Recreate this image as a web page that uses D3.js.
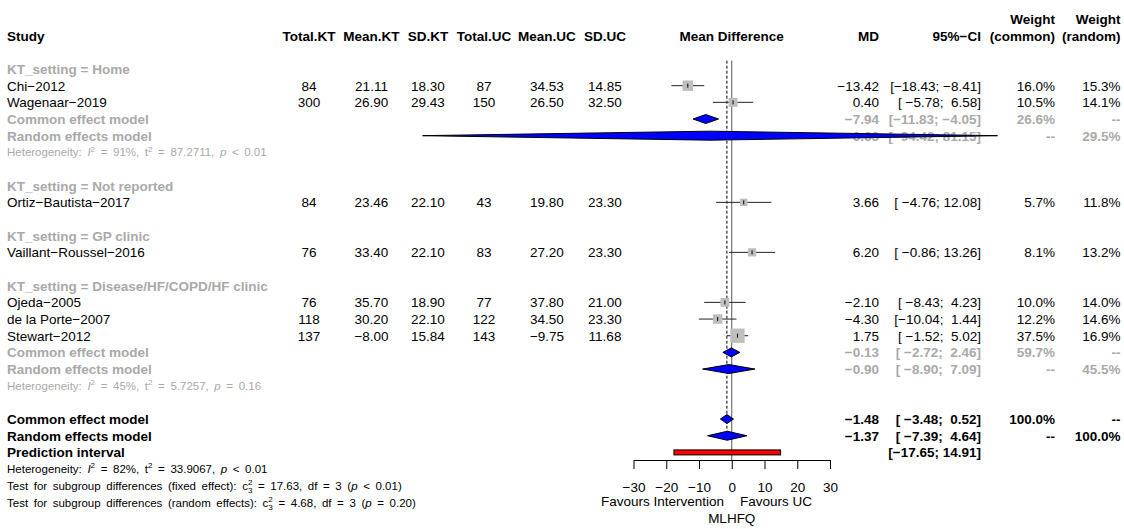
<!DOCTYPE html>
<html>
<head>
<meta charset="utf-8">
<script src="https://cdn.jsdelivr.net/npm/d3@7"></script>
<style>
  body { margin: 0; background: #fff; }
  svg text { font-family: "Liberation Sans", Arial, Helvetica, sans-serif; white-space: pre; }
</style>
</head>
<body>
<svg id="chart" width="1124" height="529"></svg>
<script>
// ---- Study-level data -------------------------------------------------
const studyNames   = ["Chi-2012", "Wagenaar-2019", "Ortiz-Bautista-2017", "Vaillant-Roussel-2016",
                      "Ojeda-2005", "de la Porte-2007", "Stewart-2012"];
const studyGroup   = [0, 0, 1, 2, 3, 3, 3];
const totalKT      = [84, 300, 84, 76, 76, 118, 137];
const meanKT       = [21.11, 26.90, 23.46, 33.40, 35.70, 30.20, -8.00];
const sdKT         = [18.30, 29.43, 22.10, 22.10, 18.90, 22.10, 15.84];
const totalUC      = [87, 150, 43, 83, 77, 122, 143];
const meanUC       = [34.53, 26.50, 19.80, 27.20, 37.80, 34.50, -9.75];
const sdUC         = [14.85, 32.50, 23.30, 23.30, 21.00, 23.30, 11.68];
const mdEst        = [-13.42, 0.40, 3.66, 6.20, -2.10, -4.30, 1.75];
const mdLower      = [-18.43, -5.78, -4.76, -0.86, -8.43, -10.04, -1.52];
const mdUpper      = [-8.41, 6.58, 12.08, 13.26, 4.23, 1.44, 5.02];
const weightCommon = [16.0, 10.5, 5.7, 8.1, 10.0, 12.2, 37.5];
const weightRandom = [15.3, 14.1, 11.8, 13.2, 14.0, 14.6, 16.9];

// ---- Subgroups ----------------------------------------------------------
const groupNames   = ["Home", "Not reported", "GP clinic", "Disease/HF/COPD/HF clinic"];
// pooled results exist only for subgroups with more than one study
const pooledGroups      = [0, 3];
const groupCommonEst    = [-7.94, -0.13];
const groupCommonLower  = [-11.83, -2.72];
const groupCommonUpper  = [-4.05, 2.46];
const groupCommonWeight = [26.6, 59.7];
const groupRandomEst    = [-6.63, -0.90];
const groupRandomLower  = [-94.42, -8.90];
const groupRandomUpper  = [81.15, 7.09];
const groupRandomWeight = [29.5, 45.5];
const groupI2           = ["91%", "45%"];
const groupTau2         = ["87.2711", "5.7257"];
const groupP            = ["< 0.01", "= 0.16"];

// ---- Overall results ------------------------------------------------------
const overallCommon     = [-1.48, -3.48, 0.52];
const overallRandom     = [-1.37, -7.39, 4.64];
const predictionInt     = [-17.65, 14.91];
const overallI2         = "82%";
const overallTau2       = "33.9067";
const overallP          = "< 0.01";
const testLabels        = ["fixed effect", "random effects"];
const testQ             = ["17.63", "4.68"];
const testDf            = ["3", "3"];
const testP             = ["< 0.01", "= 0.20"];

const axisTicks = [-30, -20, -10, 0, 10, 20, 30];

// ---- Layout ------------------------------------------------------------------
const svg = d3.select("#chart");
const FS = 13.5, FS_HET = 11.5;
const GRAY = "#a9a9a9";
const rowY = i => 69 + i * 16.67;

const x = d3.scaleLinear().domain([-30, 30]).range([633.5, 830]);

const colStudy = 7;
const colCenters = { totalKT: 309, meanKT: 371.5, sdKT: 428, totalUC: 484, meanUC: 547, sdUC: 605 };
const colMD = 879, colCI = 981, colWC = 1055, colWR = 1120.5;

const minus = s => s.replace(/-/g, "\u2212");
const f2 = v => minus(v.toFixed(2));
const pct = v => v.toFixed(1) + "%";
const padL = (s, w) => " ".repeat(Math.max(0, w - s.length)) + s;
const ciText = (lo, up) => minus("[" + padL(lo.toFixed(2), 6) + "; " + padL(up.toFixed(2), 5) + "]");

const textLayer = svg.append("g");
const plotLayer = svg.append("g");

function cell(xPos, y, str, anchor, opts = {}) {
  return textLayer.append("text")
    .attr("x", xPos).attr("y", y).attr("dy", "0.36em")
    .attr("text-anchor", anchor)
    .attr("font-size", opts.size || FS)
    .attr("font-weight", opts.bold ? "bold" : "normal")
    .attr("fill", opts.color || "#000")
    .text(str);
}

// text with italic / superscript / subscript pieces
function richText(xPos, y, parts, color) {
  const t = textLayer.append("text")
    .attr("x", xPos).attr("y", y).attr("dy", "0.36em")
    .attr("font-size", FS_HET).attr("fill", color)
    .style("word-spacing", "2.4px");
  let shift = 0, lastSup = null;
  parts.forEach(p => {
    const ts = t.append("tspan").text(p.t);
    const target = p.sup ? -0.42 * FS_HET : p.sub ? 0.28 * FS_HET : 0;
    if (target !== shift) ts.attr("dy", target - shift);
    shift = target;
    if (p.sup || p.sub) ts.attr("font-size", FS_HET * 0.7);
    if (p.it) ts.attr("font-style", "italic");
    if (p.stack && lastSup) ts.attr("dx", -lastSup.node().getComputedTextLength());
    if (p.sup) lastSup = ts;
  });
  return t;
}

function hetParts(i2, tau2, p) {
  return [
    { t: "Heterogeneity: " }, { t: "I", it: true }, { t: "2", sup: true },
    { t: " = " + i2 + ", " }, { t: "t" }, { t: "2", sup: true },
    { t: " = " + tau2 + ", " }, { t: "p", it: true }, { t: " " + p }
  ];
}

// ---- Header --------------------------------------------------------------------
const h1 = rowY(-3), h2 = rowY(-2);
cell(colStudy, h2, "Study", "start", { bold: true });
cell(colCenters.totalKT, h2, "Total.KT", "middle", { bold: true });
cell(colCenters.meanKT, h2, "Mean.KT", "middle", { bold: true });
cell(colCenters.sdKT, h2, "SD.KT", "middle", { bold: true });
cell(colCenters.totalUC, h2, "Total.UC", "middle", { bold: true });
cell(colCenters.meanUC, h2, "Mean.UC", "middle", { bold: true });
cell(colCenters.sdUC, h2, "SD.UC", "middle", { bold: true });
cell(x(0), h2, "Mean Difference", "middle", { bold: true });
cell(colMD, h2, "MD", "end", { bold: true });
cell(colCI, h2, "95%\u2212CI", "end", { bold: true });
cell(colWC, h1, "Weight", "end", { bold: true });
cell(colWC, h2, "(common)", "end", { bold: true });
cell(colWR, h1, "Weight", "end", { bold: true });
cell(colWR, h2, "(random)", "end", { bold: true });

// ---- Body rows -------------------------------------------------------------------
const studyRows = [], diamonds = [];
let row = 0;
groupNames.forEach((g, gi) => {
  cell(colStudy, rowY(row), "KT_setting = " + g, "start", { bold: true, color: GRAY });
  row++;
  studyNames.forEach((name, si) => {
    if (studyGroup[si] !== gi) return;
    const y = rowY(row);
    cell(colStudy, y, minus(name), "start");
    cell(colCenters.totalKT, y, String(totalKT[si]), "middle");
    cell(colCenters.meanKT, y, f2(meanKT[si]), "middle");
    cell(colCenters.sdKT, y, f2(sdKT[si]), "middle");
    cell(colCenters.totalUC, y, String(totalUC[si]), "middle");
    cell(colCenters.meanUC, y, f2(meanUC[si]), "middle");
    cell(colCenters.sdUC, y, f2(sdUC[si]), "middle");
    cell(colMD, y, f2(mdEst[si]), "end");
    cell(colCI, y, ciText(mdLower[si], mdUpper[si]), "end");
    cell(colWC, y, pct(weightCommon[si]), "end");
    cell(colWR, y, pct(weightRandom[si]), "end");
    studyRows.push({ y, est: mdEst[si], lo: mdLower[si], up: mdUpper[si], w: weightCommon[si] });
    row++;
  });
  const k = pooledGroups.indexOf(gi);
  if (k >= 0) {
    let y = rowY(row);
    cell(colStudy, y, "Common effect model", "start", { bold: true, color: GRAY });
    cell(colMD, y, f2(groupCommonEst[k]), "end", { bold: true, color: GRAY });
    cell(colCI, y, ciText(groupCommonLower[k], groupCommonUpper[k]), "end", { bold: true, color: GRAY });
    cell(colWC, y, pct(groupCommonWeight[k]), "end", { bold: true, color: GRAY });
    cell(colWR, y, "--", "end", { bold: true, color: GRAY });
    diamonds.push({ y, est: groupCommonEst[k], lo: groupCommonLower[k], up: groupCommonUpper[k] });
    row++;
    y = rowY(row);
    cell(colStudy, y, "Random effects model", "start", { bold: true, color: GRAY });
    cell(colMD, y, f2(groupRandomEst[k]), "end", { bold: true, color: GRAY });
    cell(colCI, y, ciText(groupRandomLower[k], groupRandomUpper[k]), "end", { bold: true, color: GRAY });
    cell(colWC, y, "--", "end", { bold: true, color: GRAY });
    cell(colWR, y, pct(groupRandomWeight[k]), "end", { bold: true, color: GRAY });
    diamonds.push({ y, est: groupRandomEst[k], lo: groupRandomLower[k], up: groupRandomUpper[k] });
    row++;
    richText(colStudy, rowY(row), hetParts(groupI2[k], groupTau2[k], groupP[k]), GRAY);
    row++;
  }
  row++; // blank spacer row
});

// ---- Overall rows ------------------------------------------------------------------
const yC = rowY(row), yR = rowY(row + 1), yP = rowY(row + 2);
cell(colStudy, yC, "Common effect model", "start", { bold: true });
cell(colMD, yC, f2(overallCommon[0]), "end", { bold: true });
cell(colCI, yC, ciText(overallCommon[1], overallCommon[2]), "end", { bold: true });
cell(colWC, yC, "100.0%", "end", { bold: true });
cell(colWR, yC, "--", "end", { bold: true });
diamonds.push({ y: yC, est: overallCommon[0], lo: overallCommon[1], up: overallCommon[2] });

cell(colStudy, yR, "Random effects model", "start", { bold: true });
cell(colMD, yR, f2(overallRandom[0]), "end", { bold: true });
cell(colCI, yR, ciText(overallRandom[1], overallRandom[2]), "end", { bold: true });
cell(colWC, yR, "--", "end", { bold: true });
cell(colWR, yR, "100.0%", "end", { bold: true });
diamonds.push({ y: yR, est: overallRandom[0], lo: overallRandom[1], up: overallRandom[2] });

cell(colStudy, yP, "Prediction interval", "start", { bold: true });
cell(colCI, yP, ciText(predictionInt[0], predictionInt[1]), "end", { bold: true });

richText(colStudy, rowY(row + 3), hetParts(overallI2, overallTau2, overallP), "#000");
testLabels.forEach((lab, i) => {
  richText(colStudy, rowY(row + 4 + i), [
    { t: "Test for subgroup differences (" + lab + "): " }, { t: "c" },
    { t: "2", sup: true }, { t: "3", sub: true, stack: true },
    { t: " = " + testQ[i] + ", df = " + testDf[i] + " (" }, { t: "p", it: true },
    { t: " " + testP[i] + ")" }
  ], "#000");
});

// ---- Forest plot -------------------------------------------------------------------
const plotTop = rowY(0) - 8.3;
const axisY = 460;

// reference line at zero and dashed line at the common-effect estimate
plotLayer.append("line")
  .attr("x1", x(0)).attr("x2", x(0)).attr("y1", plotTop).attr("y2", axisY)
  .attr("stroke", "#555").attr("stroke-width", 1);
plotLayer.append("line")
  .attr("x1", x(overallCommon[0])).attr("x2", x(overallCommon[0]))
  .attr("y1", plotTop).attr("y2", yR + 4)
  .attr("stroke", "#000").attr("stroke-width", 1).attr("stroke-dasharray", "3,2");

// study confidence intervals, weighted squares and centre ticks
const studyG = plotLayer.selectAll("g.study").data(studyRows).join("g").attr("class", "study");
studyG.append("line")
  .attr("x1", d => x(d.lo)).attr("x2", d => x(d.up))
  .attr("y1", d => d.y).attr("y2", d => d.y)
  .attr("stroke", "#222").attr("stroke-width", 1);
studyG.append("rect")
  .attr("x", d => x(d.est) - (3 + 1.85 * Math.sqrt(d.w)) / 2)
  .attr("y", d => d.y - (3 + 1.85 * Math.sqrt(d.w)) / 2)
  .attr("width", d => 3 + 1.85 * Math.sqrt(d.w))
  .attr("height", d => 3 + 1.85 * Math.sqrt(d.w))
  .attr("fill", "#bebebe");
studyG.append("line")
  .attr("x1", d => x(d.est)).attr("x2", d => x(d.est))
  .attr("y1", d => d.y - 2).attr("y2", d => d.y + 2)
  .attr("stroke", "#000").attr("stroke-width", 1);

// pooled diamonds
plotLayer.selectAll("polygon.diamond").data(diamonds).join("polygon")
  .attr("class", "diamond")
  .attr("points", d => [[x(d.lo), d.y], [x(d.est), d.y - 4.5], [x(d.up), d.y], [x(d.est), d.y + 4.5]]
    .map(p => p.join(",")).join(" "))
  .attr("fill", "#0000ff").attr("stroke", "#000").attr("stroke-width", 1);

// prediction interval bar
plotLayer.append("rect")
  .attr("x", x(predictionInt[0])).attr("y", yP - 2.5)
  .attr("width", x(predictionInt[1]) - x(predictionInt[0])).attr("height", 5)
  .attr("fill", "#ff0000").attr("stroke", "#000").attr("stroke-width", 1);

// x axis
const axisG = plotLayer.append("g")
  .attr("transform", `translate(0,${axisY})`)
  .call(d3.axisBottom(x).tickValues(axisTicks).tickSize(9).tickSizeOuter(0).tickPadding(13));
axisG.selectAll("text").attr("font-size", FS).attr("fill", "#000")
  .attr("font-family", '"Liberation Sans", Arial, sans-serif');
axisG.selectAll("line, path").attr("stroke", "#000");

textLayer.append("text").attr("x", 724).attr("y", 506.4).attr("text-anchor", "end")
  .attr("font-size", FS).text("Favours Intervention");
textLayer.append("text").attr("x", 740).attr("y", 506.4).attr("text-anchor", "start")
  .attr("font-size", FS).text("Favours UC");
textLayer.append("text").attr("x", x(0)).attr("y", 523).attr("text-anchor", "middle")
  .attr("font-size", FS).text("MLHFQ");
</script>
</body>
</html>
